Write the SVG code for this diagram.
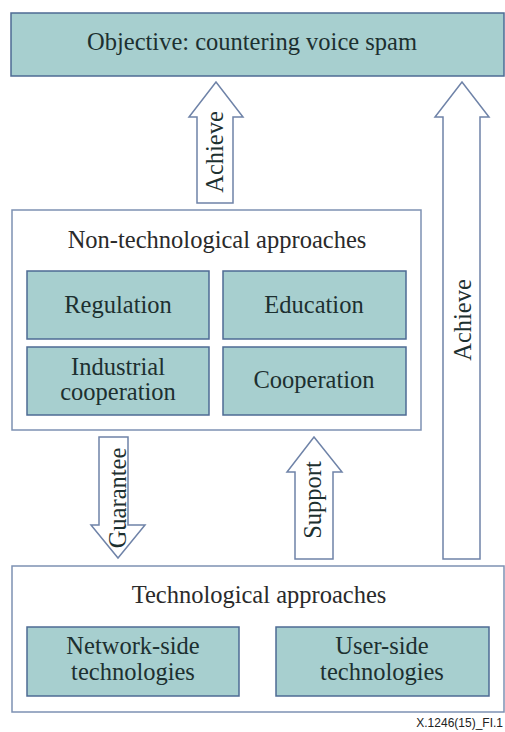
<svg xmlns="http://www.w3.org/2000/svg" width="505" height="732" viewBox="0 0 505 732">
<style>
.box{fill:#a7cfcf;stroke:#4d6b94;stroke-width:1.5}
.frame{fill:#ffffff;stroke:#7d91b3;stroke-width:1.5}
.arrow{fill:#ffffff;stroke:#6f83a8;stroke-width:1.5;stroke-linejoin:miter}
.t{font-family:'Liberation Serif','Times New Roman','DejaVu Serif',serif;font-size:24.5px;text-anchor:middle;fill:#1d3030}
.title{fill:#2a2a2a}
.foot{font-family:'Liberation Sans',Arial,sans-serif;font-size:12px;text-anchor:end;fill:#222}
</style>
<rect width="505" height="732" fill="#ffffff"/>
<g id="connectors">
<path class="arrow" d="M197,203 V117 H189 L216,82 L243,117 H233 V203 Z"/>
<text class="t" transform="translate(223,152) rotate(-90)">Achieve</text>
<path class="arrow" d="M443,559 V117 H435 L462,82 L489,117 H480 V559 Z"/>
<text class="t" transform="translate(471,320) rotate(-90)">Achieve</text>
<path class="arrow" d="M99,437 V525 H91 L118,558 L145,525 H128 V437 Z"/>
<text class="t" transform="translate(126,498) rotate(-90)">Guarantee</text>
<path class="arrow" d="M295,559 V472 H287 L314,437 L342,472 H333 V559 Z"/>
<text class="t" transform="translate(321,500) rotate(-90)">Support</text>
</g>
<g id="objective">
<rect class="box" x="11" y="13" width="493" height="63"/>
<text class="t" x="252" y="50">Objective: countering voice spam</text>
</g>
<g id="non-technological">
<rect class="frame" x="12" y="210" width="409" height="220"/>
<text class="t title" x="217" y="248">Non-technological approaches</text>
</g>
<g id="regulation">
<rect class="box" x="27" y="271" width="182" height="68"/>
<text class="t" x="118" y="313">Regulation</text>
</g>
<g id="education">
<rect class="box" x="223" y="271" width="183" height="68"/>
<text class="t" x="314" y="313">Education</text>
</g>
<g id="industrial-cooperation">
<rect class="box" x="27" y="347" width="182" height="68"/>
<text class="t" x="118" y="375">Industrial</text>
<text class="t" x="118" y="400">cooperation</text>
</g>
<g id="cooperation">
<rect class="box" x="223" y="347" width="183" height="68"/>
<text class="t" x="314" y="388">Cooperation</text>
</g>
<g id="technological">
<rect class="frame" x="12" y="566" width="492" height="146"/>
<text class="t title" x="259" y="603">Technological approaches</text>
</g>
<g id="network-side">
<rect class="box" x="27" y="627" width="212" height="69"/>
<text class="t" x="133" y="654">Network-side</text>
<text class="t" x="133" y="680">technologies</text>
</g>
<g id="user-side">
<rect class="box" x="276" y="627" width="213" height="69"/>
<text class="t" x="382" y="654">User-side</text>
<text class="t" x="382" y="680">technologies</text>
</g>
<text class="foot" x="503" y="727">X.1246(15)_FI.1</text>
</svg>
